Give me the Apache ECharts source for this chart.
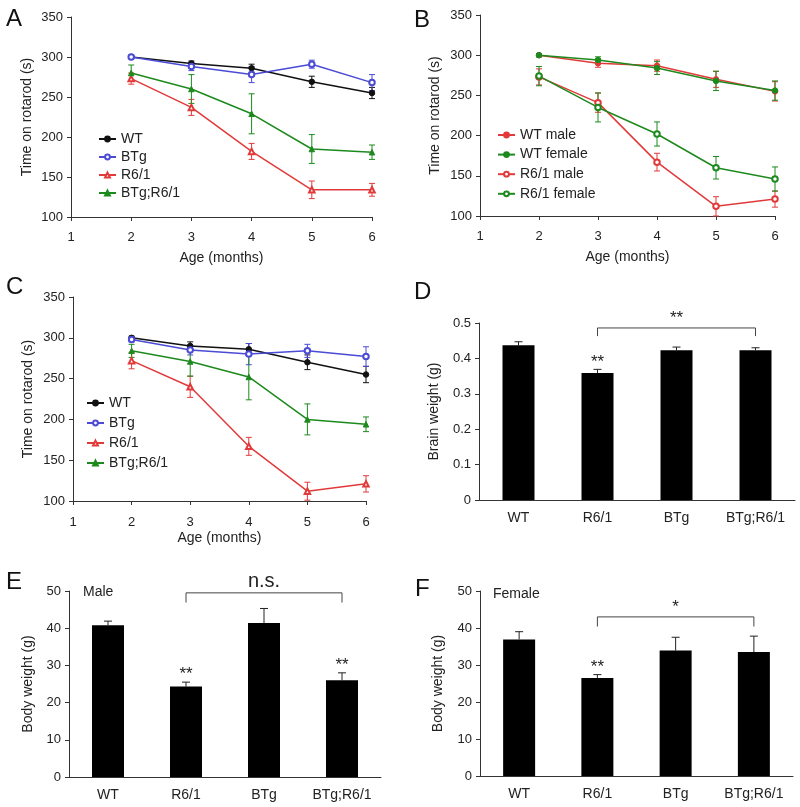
<!DOCTYPE html>
<html>
<head>
    <meta charset="utf-8">
    <script src="https://cdn.jsdelivr.net/npm/echarts@6/dist/echarts.min.js"></script>
    <style>
        html, body { margin: 0; padding: 0; background: #fff; }
    </style>
</head>
<body>
    <div id="main" style="width: 800px;height:807px;"></div>
    <script type="text/javascript">
        // ages in months (x axis of A, B, C)
        var months = [2, 3, 4, 5, 6];

        // panel A - rotarod, all mice
        var aWT = [300, 292, 286, 269, 255],   aWTErr = [2, 3, 5, 7, 7];
        var aBTg = [300, 288, 278, 291, 268],  aBTgErr = [2, 5, 10, 5, 10];
        var aR61 = [273, 237, 182, 134, 134],  aR61Err = [7, 10, 10, 11, 8];
        var aBR = [280, 260, 229, 185, 181],   aBRErr = [10, 18, 25, 18, 9];

        // panel B - rotarod by sex
        var bWTm = [300, 290, 287, 270, 255],  bWTmErr = [2, 5, 7, 10, 12];
        var bWTf = [300, 294, 284, 268, 256],  bWTfErr = [2, 4, 8, 12, 12];
        var bR6m = [273, 241, 167, 112, 121],  bR6mErr = [10, 12, 11, 12, 10];
        var bR6f = [274, 235, 202, 160, 146],  bR6fErr = [12, 18, 15, 14, 15];

        // panel C - rotarod, second cohort
        var cWT = [300, 290, 286, 270, 255],   cWTErr = [2, 5, 7, 9, 10];
        var cBTg = [298, 285, 280, 284, 277],  cBTgErr = [3, 6, 13, 8, 12];
        var cR61 = [272, 240, 167, 112, 121],  cR61Err = [10, 13, 11, 11, 10];
        var cBR = [284, 271, 252, 200, 194],   cBRErr = [8, 18, 28, 19, 9];

        // bar panels D, E, F
        var groups = ['WT', 'R6/1', 'BTg', 'BTg;R6/1'];
        var dVal = [0.437, 0.359, 0.423, 0.423], dErr = [0.010, 0.010, 0.009, 0.007];
        var eVal = [40.8, 24.3, 41.4, 26.0],     eErr = [1.1, 1.2, 3.9, 2.0];
        var fVal = [36.9, 26.5, 33.9, 33.5],     fErr = [2.1, 0.9, 3.6, 4.3];

        // significance marks: bar indices with stars, and brackets [from, to, lineY, tickY]
        var dStars = [1], eStars = [1, 3], fStars = [1];
        var dBracket = [1, 3, 0.486, 0.463], dBracketText = '**';
        var eBracket = [1, 3, 49.5, 46.9],   eBracketText = 'n.s.';
        var fBracket = [1, 3, 43.0, 40.4],   fBracketText = '*';

        var FONT = 'Liberation Sans, Arial, sans-serif';
        var TXT = '#222';
        var AX = '#333';

        var BLACK = '#111', BLUE = '#4b4bd6', RED = '#e23a3a', GREEN = '#1d8a1d';

        var myChart = echarts.init(document.getElementById('main'));

        function errItem(color, cap, downToo) {
            return function (params, api) {
                var x = api.value(0);
                var lo = api.coord([x, api.value(1)]);
                var hi = api.coord([x, api.value(2)]);
                var st = { stroke: color, lineWidth: 1 };
                var kids = [
                    { type: 'line', shape: { x1: lo[0], y1: lo[1], x2: hi[0], y2: hi[1] }, style: st },
                    { type: 'line', shape: { x1: hi[0] - cap, y1: hi[1], x2: hi[0] + cap, y2: hi[1] }, style: st }
                ];
                if (downToo) {
                    kids.push({ type: 'line', shape: { x1: lo[0] - cap, y1: lo[1], x2: lo[0] + cap, y2: lo[1] }, style: st });
                }
                return { type: 'group', children: kids };
            };
        }

        function lineSet(name, vals, errs, color, symbol, g) {
            var pts = months.map(function (m, i) { return [m, vals[i]]; });
            var bars = months.map(function (m, i) { return [m, vals[i] - errs[i], vals[i] + errs[i]]; });
            return [
                {
                    name: name, type: 'line', xAxisIndex: g, yAxisIndex: g, data: pts,
                    symbol: symbol, symbolSize: 5.5, z: 3,
                    lineStyle: { width: 1.5, color: color },
                    itemStyle: { color: color, borderColor: color, borderWidth: 1 }
                },
                {
                    name: name + ' sem', type: 'custom', xAxisIndex: g, yAxisIndex: g, data: bars,
                    encode: { x: 0, y: [1, 2] }, z: 2, silent: true,
                    renderItem: errItem(color, 3, true)
                }
            ];
        }

        function barSet(vals, errs, stars, bracket, bracketText, g, textSize) {
            var errData = vals.map(function (v, i) { return [i, v, v + errs[i]]; });
            var starData = stars.map(function (i) { return [i, vals[i] + errs[i]]; });
            return [
                {
                    name: 'bar' + g, type: 'bar', xAxisIndex: g, yAxisIndex: g, data: vals,
                    barWidth: 32, itemStyle: { color: '#000' }
                },
                {
                    name: 'bar sem' + g, type: 'custom', xAxisIndex: g, yAxisIndex: g, data: errData,
                    encode: { x: 0, y: [1, 2] }, silent: true, z: 1,
                    renderItem: errItem('#222', 4, false)
                },
                {
                    name: 'stars' + g, type: 'custom', xAxisIndex: g, yAxisIndex: g, data: starData,
                    encode: { x: 0, y: 1 }, silent: true,
                    renderItem: function (params, api) {
                        var p = api.coord([api.value(0), api.value(1)]);
                        return {
                            type: 'text', x: p[0], y: p[1] + 1,
                            style: { text: '**', font: '17px ' + FONT, fill: TXT, align: 'center', verticalAlign: 'bottom' }
                        };
                    }
                },
                {
                    name: 'bracket' + g, type: 'custom', xAxisIndex: g, yAxisIndex: g, data: [bracket],
                    encode: { x: [0, 1], y: [2, 3] }, silent: true,
                    renderItem: function (params, api) {
                        var a = api.coord([api.value(0), api.value(3)]);
                        var b = api.coord([api.value(0), api.value(2)]);
                        var c = api.coord([api.value(1), api.value(2)]);
                        var d = api.coord([api.value(1), api.value(3)]);
                        return {
                            type: 'group', children: [
                                { type: 'polyline', shape: { points: [a, b, c, d] }, style: { stroke: '#444', lineWidth: 1, fill: null } },
                                {
                                    type: 'text', x: (b[0] + c[0]) / 2, y: b[1] - 1,
                                    style: { text: bracketText, font: textSize + 'px ' + FONT, fill: TXT, align: 'center', verticalAlign: 'bottom' }
                                }
                            ]
                        };
                    }
                }
            ];
        }

        var grids = [
            { left: 71, top: 17, width: 301, height: 200 },   // A
            { left: 480, top: 15, width: 295, height: 201 },  // B
            { left: 73, top: 297, width: 293, height: 204 },  // C
            { left: 479, top: 323, width: 316, height: 177 }, // D
            { left: 69, top: 591, width: 312, height: 186 },  // E
            { left: 480, top: 591, width: 313, height: 185 }  // F
        ];
        grids.forEach(function (g) { g.outerBoundsMode = 'none'; });

        var axLine = { lineStyle: { color: AX, width: 1 } };
        var axTick = { length: 4, lineStyle: { color: AX } };
        var axLbl = { color: TXT, fontSize: 13, fontFamily: FONT };
        var nameStyle = { color: TXT, fontSize: 14, fontFamily: FONT };

        function monthAxis(g, gap, margin) {
            return {
                type: 'value', gridIndex: g, min: 1, max: 6, interval: 1,
                name: 'Age (months)', nameLocation: 'middle', nameGap: gap, nameTextStyle: nameStyle,
                axisLine: axLine, axisTick: axTick, axisLabel: Object.assign({ margin: margin }, axLbl),
                splitLine: { show: false }
            };
        }
        function rotaAxis(g, gap) {
            return {
                type: 'value', gridIndex: g, min: 100, max: 350, interval: 50,
                name: 'Time on rotarod (s)', nameLocation: 'middle', nameGap: gap, nameTextStyle: nameStyle,
                axisLine: Object.assign({ show: true }, axLine), axisTick: Object.assign({ show: true }, axTick),
                axisLabel: Object.assign({ margin: 8 }, axLbl), splitLine: { show: false }
            };
        }
        function catAxis(g) {
            return {
                type: 'category', gridIndex: g, data: groups,
                axisLine: axLine, axisTick: axTick,
                axisLabel: { color: TXT, fontSize: 14, fontFamily: FONT, margin: 11 }
            };
        }
        function wAxis(g, name, max, step, gap) {
            return {
                type: 'value', gridIndex: g, min: 0, max: max, interval: step,
                name: name, nameLocation: 'middle', nameGap: gap, nameTextStyle: nameStyle,
                axisLine: Object.assign({ show: true }, axLine), axisTick: Object.assign({ show: true }, axTick),
                axisLabel: Object.assign({ margin: 8 }, axLbl), splitLine: { show: false }
            };
        }

        var series = [].concat(
            lineSet('WT', aWT, aWTErr, BLACK, 'circle', 0),
            lineSet('BTg', aBTg, aBTgErr, BLUE, 'emptyCircle', 0),
            lineSet('R6/1', aR61, aR61Err, RED, 'emptyTriangle', 0),
            lineSet('BTg;R6/1', aBR, aBRErr, GREEN, 'triangle', 0),
            lineSet('WT male', bWTm, bWTmErr, RED, 'circle', 1),
            lineSet('WT female', bWTf, bWTfErr, GREEN, 'circle', 1),
            lineSet('R6/1 male', bR6m, bR6mErr, RED, 'emptyCircle', 1),
            lineSet('R6/1 female', bR6f, bR6fErr, GREEN, 'emptyCircle', 1),
            lineSet('WT', cWT, cWTErr, BLACK, 'circle', 2),
            lineSet('BTg', cBTg, cBTgErr, BLUE, 'emptyCircle', 2),
            lineSet('R6/1', cR61, cR61Err, RED, 'emptyTriangle', 2),
            lineSet('BTg;R6/1', cBR, cBRErr, GREEN, 'triangle', 2),
            barSet(dVal, dErr, dStars, dBracket, dBracketText, 3, 17),
            barSet(eVal, eErr, eStars, eBracket, eBracketText, 4, 20),
            barSet(fVal, fErr, fStars, fBracket, fBracketText, 5, 17)
        );

        function legendAt(names, left, top, gap) {
            return {
                data: names, left: left, top: top, orient: 'vertical',
                itemWidth: 17, itemHeight: 6, itemGap: gap, selectedMode: false,
                textStyle: { color: TXT, fontSize: 14, fontFamily: FONT, lineHeight: 14 }
            };
        }

        function letter(t, x, y) {
            return { type: 'text', left: x, top: y, style: { text: t, font: '24px ' + FONT, fill: '#111' } };
        }

        myChart.setOption({
            animation: false,
            backgroundColor: '#fff',
            grid: grids,
            xAxis: [monthAxis(0, 34, 14), monthAxis(1, 34, 14), monthAxis(2, 30, 15), catAxis(3), catAxis(4), catAxis(5)],
            yAxis: [
                rotaAxis(0, 37), rotaAxis(1, 38), rotaAxis(2, 38),
                wAxis(3, 'Brain weight (g)', 0.5, 0.1, 38),
                wAxis(4, 'Body weight (g)', 50, 10, 34),
                wAxis(5, 'Body weight (g)', 50, 10, 35)
            ],
            legend: [
                legendAt(['WT', 'BTg', 'R6/1', 'BTg;R6/1'], 93, 127, 4),
                legendAt(['WT male', 'WT female', 'R6/1 male', 'R6/1 female'], 492, 123, 5.6),
                legendAt(['WT', 'BTg', 'R6/1', 'BTg;R6/1'], 81, 391, 6)
            ],
            graphic: [
                letter('A', 6, 7), letter('B', 414, 8),
                letter('C', 6, 275), letter('D', 414, 280),
                letter('E', 6, 570), letter('F', 415, 577),
                { type: 'text', left: 83, top: 585, style: { text: 'Male', font: '14px ' + FONT, fill: TXT } },
                { type: 'text', left: 493, top: 587, style: { text: 'Female', font: '14px ' + FONT, fill: TXT } }
            ],
            series: series
        });
    </script>
</body>
</html>
